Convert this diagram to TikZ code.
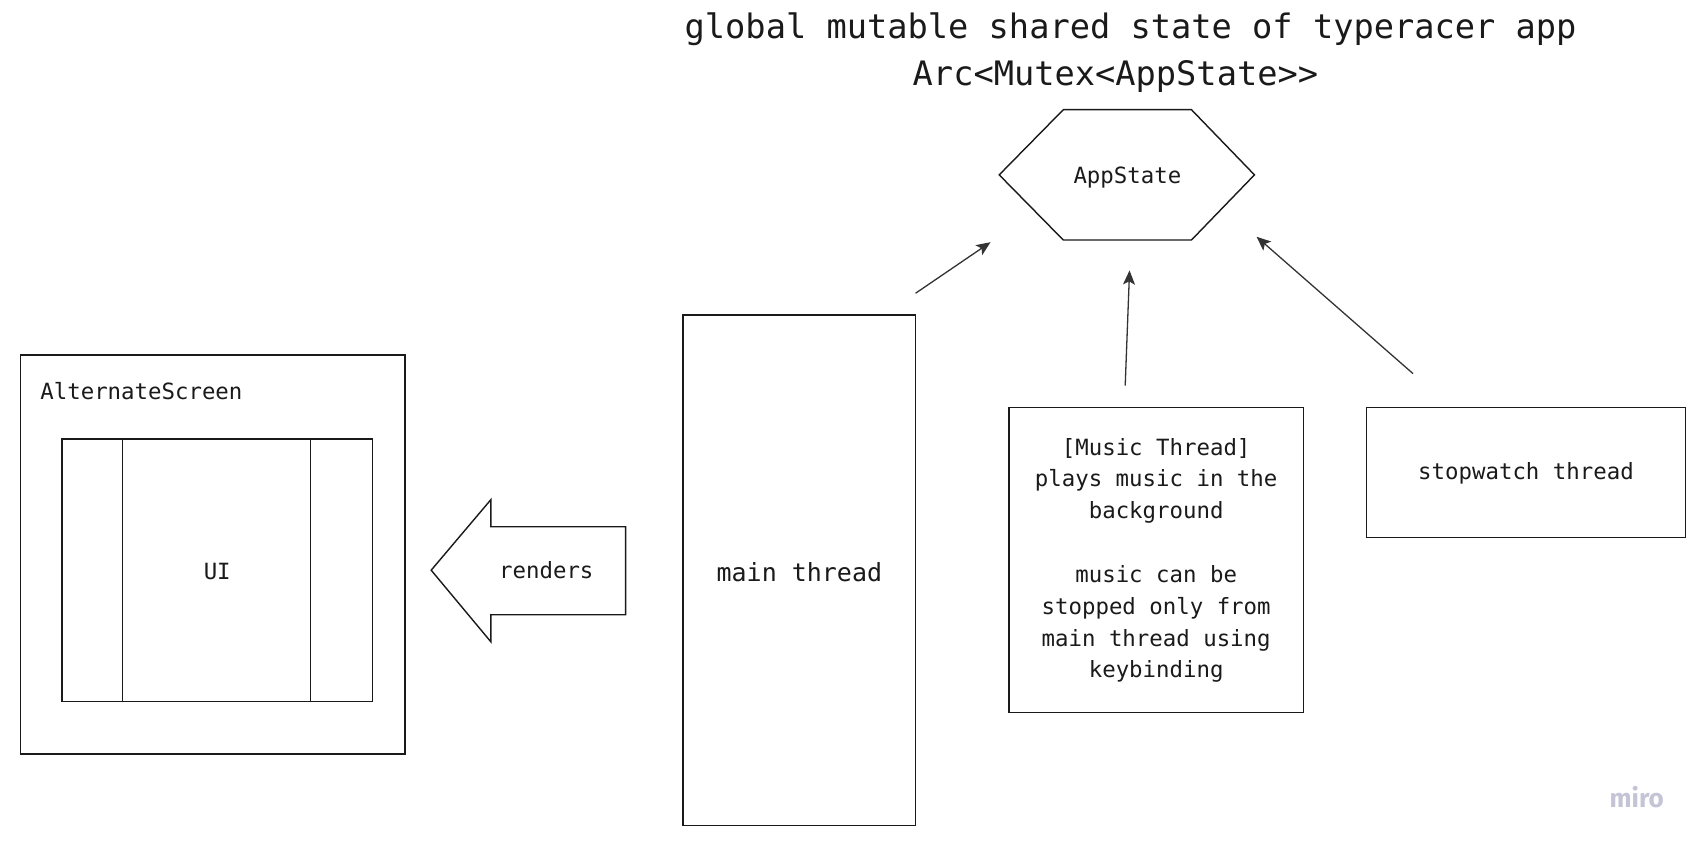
\documentclass[tikz,border=0pt]{standalone}
\usepackage{fontspec}
\setmonofont{DejaVu Sans Mono}
\newfontfamily\mirofont{Fira Sans}
\usetikzlibrary{arrows.meta}
\definecolor{ink}{HTML}{1A1A1A}
\definecolor{arr}{HTML}{333333}
\definecolor{mirogray}{RGB}{196,196,214}
\tikzset{
  box/.style={draw=ink, line width=1.4pt, inner sep=0pt},
  txt/.style={font=\ttfamily\fontsize{20.6}{29.3}\selectfont, text=ink, align=center},
  ttl/.style={font=\ttfamily\fontsize{31}{40}\selectfont, text=ink},
  conn/.style={draw=arr, line width=1.2pt, -{Stealth[length=13pt,width=11pt,inset=3pt]}},
  thin/.style={draw=ink, line width=1.1pt}
}
\begin{document}
\begin{tikzpicture}[x=1pt,y=-1pt]
\useasboundingbox[fill=white] (0,0) rectangle (1568,778);
% title
\node[ttl] (t1) at (1041,27) {global mutable shared state of typeracer app};
\node[ttl] (t2) at (1027,70) {Arc<Mutex<AppState>>};
% hexagon
\draw[thin, line width=1.3pt] (920,161)--(979,101)--(1097,101)--(1155,161)--(1097,221)--(979,221)--cycle;
\node[txt] (app) at (1038,163) {AppState};
% main thread
\node[box, minimum width=214pt, minimum height=470pt, txt, font=\ttfamily\fontsize{23}{29}\selectfont] (main) at (736,525) {};
\node[txt, font=\ttfamily\fontsize{23}{29}\selectfont] (maintxt) at (736,527) {main thread};
% music thread
\node[box, minimum width=271pt, minimum height=281pt] (music) at (1064.5,515.5) {};
\node[txt] (musictxt) at (1064.5,516) {[Music Thread]\\plays music in the\\background\\[29.3pt]music can be\\stopped only from\\main thread using\\keybinding};
% stopwatch
\node[box, minimum width=294pt, minimum height=120pt] (stop) at (1405,435) {};
\node[txt] (stoptxt) at (1405,436) {stopwatch thread};
% alternate screen
\node[box, minimum width=354pt, minimum height=367pt] (alt) at (196,510.5) {};
\node[txt, anchor=west, inner sep=0pt] (alttxt) at (37,360) {AlternateScreen};
\node[box, minimum width=286pt, minimum height=242pt] (ui) at (200,525) {};
\draw[thin] (113,404) -- (113,646);
\draw[thin] (286,404) -- (286,646);
\node[txt] (uitxt) at (200,526) {UI};
% block arrow
\draw[thin, line width=1.3pt] (397,525)--(452,460)--(452,485)--(576,485)--(576,566)--(452,566)--(452,591)--cycle;
\node[txt] (rend) at (503,525) {renders};
% connectors
\coordinate (a1s) at (843,270);
\coordinate (a1e) at (912,223);
\coordinate (a2s) at (1036,355);
\coordinate (a2e) at (1040,249);
\coordinate (a3s) at (1301,344);
\coordinate (a3e) at (1157,218);
\draw[conn] (a1s) -- (a1e);
\draw[conn] (a2s) -- (a2e);
\draw[conn] (a3s) -- (a3e);
% logo
\node[font=\mirofont\bfseries\fontsize{24}{24}\selectfont, text=mirogray] (miro) at (1507,734) {miro};
\end{tikzpicture}
\end{document}
